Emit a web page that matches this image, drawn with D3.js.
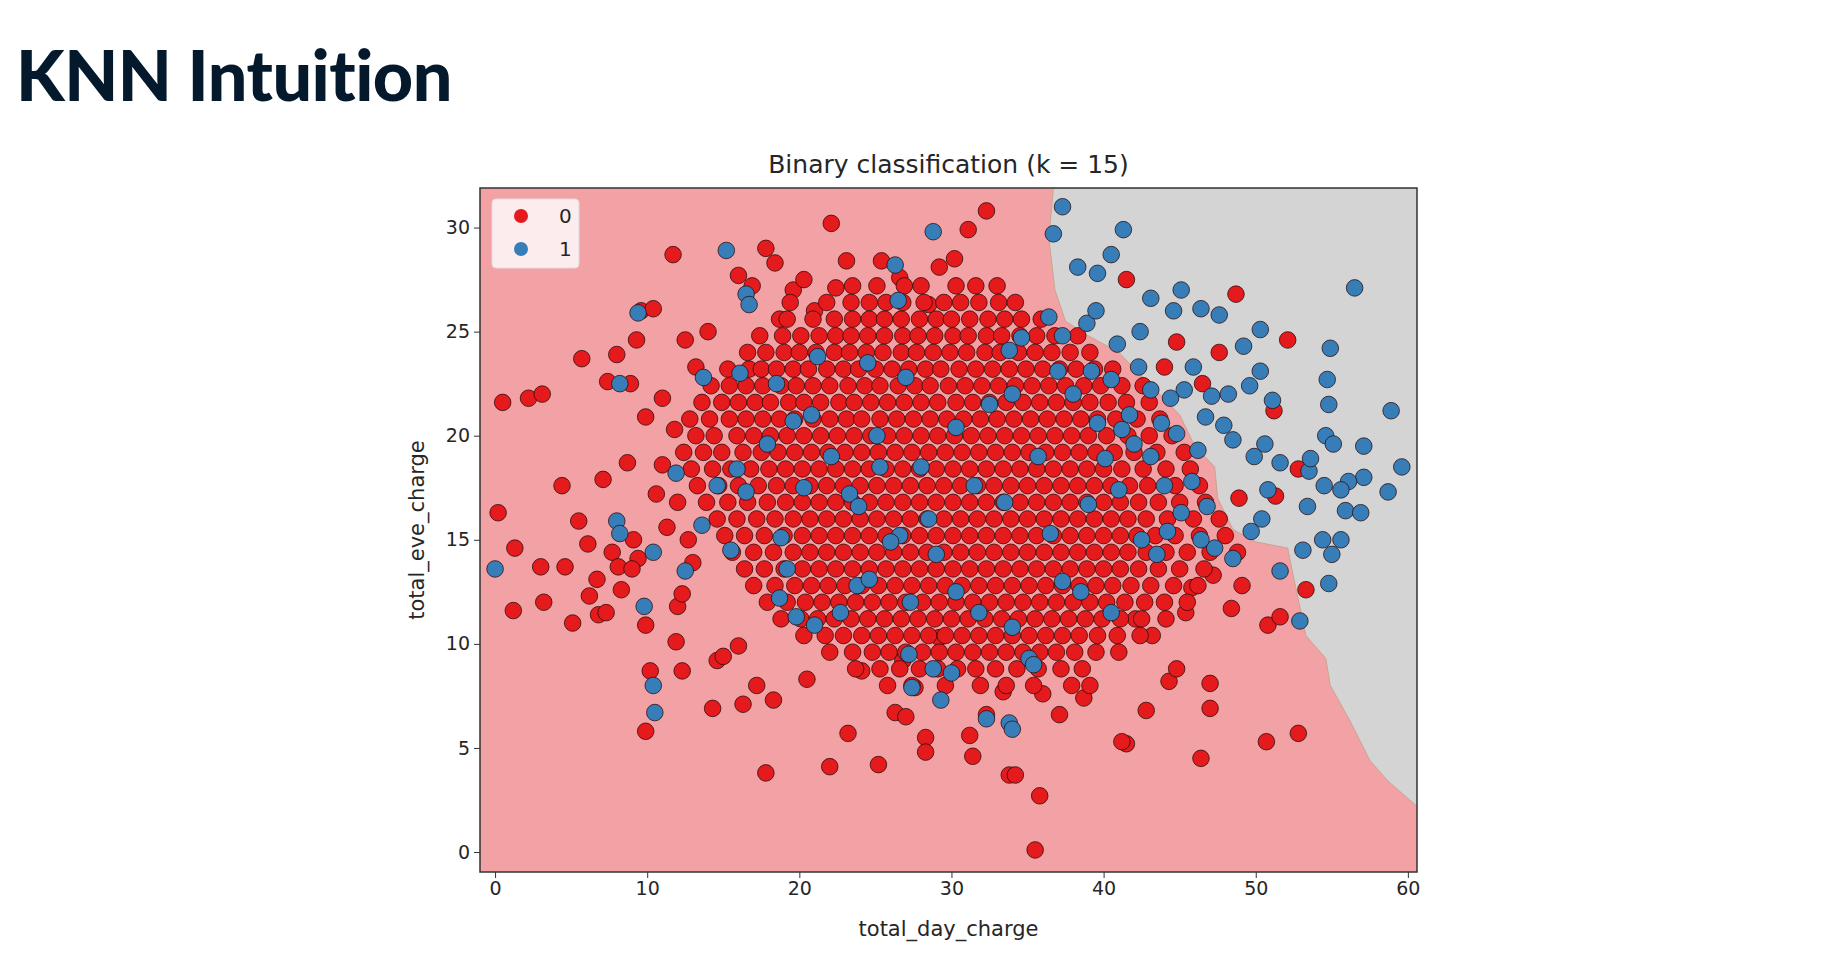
<!DOCTYPE html>
<html>
<head>
<meta charset="utf-8">
<script src="https://cdn.jsdelivr.net/npm/d3@7"></script>
<style>
  body { margin: 0; background: #fff; }
  h1 { position: absolute; left: 16px; top: 32px; margin: 0; font-family: Lato, "Open Sans", sans-serif;
       font-weight: 900; font-size: 70px; color: #05192d; letter-spacing: -0.5px; }
  svg text { font-family: "DejaVu Sans", sans-serif; fill: #262626; }
</style>
</head>
<body>
<h1>KNN Intuition</h1>
<div id="chart"></div>
<script>
// axis ticks
var xTicks = [0, 10, 20, 30, 40, 50, 60];
var yTicks = [0, 5, 10, 15, 20, 25, 30];

// class 1 (grey) decision region outline
var greyRegion = [[36.7,31.9],[36.4,29.5],[36.8,27],[37.5,25.5],[39,24.8],[41,24],[43,22.5],[45,21],[46,19.5],
  [47.3,18.5],[47.5,17],[48.5,15.5],[50,14.9],[52.1,14.6],[52.4,13.5],[53.3,10.4],[54.6,9.3],[54.9,8.0],
  [56.2,6.3],[57.5,4.4],[58.7,3.4],[60.6,2.2],[61.2,2.0],[61.2,31.9]];

// class 0 points, sparse outer ones
var redOuter = [[0.2,16.3],[1.3,14.6],[1.2,11.6],[3.0,13.7],[3.2,12.0],[0.5,21.6],[2.2,21.8],[3.1,22.0],[4.4,17.6],
  [4.6,13.7],[5.1,11.0],[5.5,15.9],[5.7,23.7],[6.1,14.8],[6.2,12.3],[6.7,13.1],[6.8,11.4],[7.1,17.9],[7.3,11.5],
  [7.4,22.6],[7.7,14.4],[8.1,13.7],[8.3,12.6],[8.7,18.7],[8.0,23.9],[8.9,22.5],[9.3,24.6],[9.6,26.0],[9.9,20.9],
  [9.1,15.0],[9.4,14.1],[9.0,13.6],[9.9,10.9],[9.9,5.8],[10.2,8.7],[10.4,26.1],[11.0,21.8],[11.7,28.7],[11.3,15.6],
  [11.0,18.6],[12.0,11.8],[12.3,8.7],[11.9,10.1],[13.0,13.9],[12.3,12.4],[14.3,6.9],[14.6,9.2],[15.0,9.4],[16.3,7.1],
  [16.0,9.9],[17.2,8.0],[18.3,7.3],[17.8,3.8],[20.5,8.3],[22.0,4.1],[23.2,5.7],[24.1,8.7],[25.2,4.2],[26.3,6.7],
  [26.8,9.2],[27.0,6.5],[27.6,7.9],[28.3,5.5],[28.3,4.8],[29.2,10.3],[31.2,5.6],[31.4,4.6],[32.3,6.6],[33.4,7.7],
  [33.8,3.7],[34.2,3.7],[35.8,2.7],[35.5,0.1],[36.0,7.6],[37.1,6.6],[38.7,7.4],[39.1,8.0],[41.5,5.2],[41.2,5.3],
  [42.8,6.8],[46.4,4.5],[47.0,6.9],[47.0,8.1],[44.3,8.2],[50.7,5.3],[52.8,5.7],[44.8,8.8],[48.4,11.7],[50.8,10.9],
  [51.6,11.3],[53.3,12.6],[49.1,12.8],[45.4,11.5],[43.2,10.4],[42.1,11.2],[22.1,30.2],[17.8,29.0],[18.4,28.3],
  [19.6,27.0],[23.1,28.4],[25.4,28.4],[26.6,27.6],[29.2,28.1],[30.2,28.5],[31.1,29.9],[32.3,30.8],[28.5,26.3],
  [16.9,27.2],[16.0,27.7],[19.4,26.4],[18.7,25.6],[21.0,26.0],[20.3,27.5],[22.4,27.1],[41.5,27.5],[48.7,26.8],
  [52.1,24.6],[47.6,24.0],[44.8,24.5],[51.2,21.2],[52.8,18.4],[51.3,17.1],[46.5,22.5],[44.0,23.3],[48.9,17.0],
  [47.2,13.3],[45.8,12.7],[14.0,25.0],[12.5,24.6],[13.2,23.3],[11.8,20.3],[12.0,16.8],[10.6,17.2],[12.7,15.0]];

// class 0 points, dense core: one row per y value
var redRowY = [27.2, 26.4, 25.6, 24.8, 24.0, 23.2, 22.4, 21.6, 20.8, 20.0, 19.2, 18.4, 17.6, 16.8, 16.0, 15.2,
  14.4, 13.6, 12.8, 12.0, 11.2, 10.4, 9.6, 8.8, 8.0];
var redRowX = [
  [23.5,25.1,26.9,28.0,30.3,31.6,33.0],
  [21.8,23.4,24.6,25.7,26.8,28.2,29.5,30.6,31.8,33.1,34.2],
  [19.2,20.9,22.3,23.5,24.6,25.6,26.7,27.9,29.0,30.0,31.2,32.4,33.5,34.6,35.9],
  [17.4,18.9,20.1,21.3,22.4,23.4,24.5,25.6,26.8,27.8,28.9,30.1,31.1,32.3,33.3,34.5,35.6,36.8,38.3],
  [16.6,17.8,19.0,20.0,21.1,22.3,23.3,24.4,25.5,26.7,27.7,28.8,29.9,31.0,32.2,33.2,34.4,35.5,36.6,37.8,39.1],
  [15.3,16.7,17.5,18.5,19.6,20.6,21.8,22.9,23.9,25.0,26.1,27.2,28.3,29.3,30.5,31.6,32.7,33.8,34.9,36.0,37.1,38.2,39.4,40.6],
  [14.2,15.4,16.5,17.6,18.8,19.8,20.9,22.0,23.2,24.3,25.3,26.5,27.6,28.6,29.8,30.9,32.0,33.1,34.2,35.3,36.4,37.5,38.7,39.8,41.2,42.6],
  [13.6,14.9,16.0,17.1,18.1,19.3,20.3,21.4,22.6,23.6,24.7,25.8,26.9,28.0,29.1,30.3,31.4,32.5,33.6,34.7,35.8,36.9,38.0,39.1,40.3,41.5,43.0],
  [12.8,14.1,15.4,16.5,17.6,18.7,19.7,20.9,22.0,23.1,24.1,25.3,26.4,27.5,28.6,29.7,30.8,31.9,33.0,34.1,35.2,36.3,37.4,38.5,39.6,40.8,42.2,43.7],
  [13.2,14.4,15.9,17.0,18.1,19.2,20.3,21.4,22.5,23.6,24.7,25.8,26.9,28.0,29.1,30.2,31.3,32.4,33.5,34.6,35.7,36.8,37.9,39.0,40.2,41.6,43.0,44.5],
  [12.4,13.7,14.9,16.3,17.5,18.6,19.7,20.8,21.9,23.0,24.1,25.2,26.3,27.4,28.5,29.6,30.7,31.8,32.9,34.0,35.1,36.2,37.3,38.4,39.5,40.7,42.0,43.5,45.3],
  [12.9,14.3,15.5,16.8,18.0,19.1,20.2,21.3,22.4,23.5,24.6,25.7,26.8,27.9,29.0,30.1,31.2,32.3,33.4,34.5,35.6,36.7,37.8,38.9,40.0,41.2,42.6,44.1,45.7],
  [13.3,14.7,16.0,17.3,18.5,19.6,20.7,21.8,22.9,24.0,25.1,26.2,27.3,28.4,29.5,30.6,31.7,32.8,33.9,35.0,36.1,37.2,38.3,39.4,40.5,41.7,42.9,44.7,46.3],
  [13.9,15.3,16.6,17.9,19.1,20.2,21.3,22.4,23.5,24.6,25.7,26.8,27.9,29.0,30.1,31.2,32.3,33.4,34.5,35.6,36.7,37.8,38.9,40.0,41.1,42.3,43.6,45.0,46.7],
  [14.6,15.9,17.2,18.4,19.6,20.7,21.8,22.9,24.0,25.1,26.2,27.3,28.4,29.5,30.6,31.7,32.8,33.9,35.0,36.1,37.2,38.3,39.4,40.5,41.6,42.8,44.2,45.9,47.6],
  [15.1,16.4,17.7,19.0,20.2,21.3,22.4,23.5,24.6,25.7,26.8,27.9,29.0,30.1,31.2,32.3,33.4,34.5,35.6,36.7,37.8,38.9,40.0,41.1,42.2,43.4,44.7,46.3,48.0],
  [15.6,17.0,18.3,19.6,20.7,21.8,22.9,24.0,25.1,26.2,27.3,28.4,29.5,30.6,31.7,32.8,33.9,35.0,36.1,37.2,38.3,39.4,40.5,41.6,42.8,44.1,45.5,47.0,48.8],
  [16.4,17.7,19.0,20.2,21.3,22.4,23.5,24.6,25.7,26.8,27.9,29.0,30.1,31.2,32.3,33.4,34.5,35.6,36.7,37.8,38.9,40.0,41.1,42.3,43.6,45.0,46.6],
  [17.0,18.4,19.7,20.8,21.9,23.0,24.1,25.2,26.3,27.4,28.5,29.6,30.7,31.8,32.9,34.0,35.1,36.2,37.3,38.4,39.5,40.6,41.8,43.1,44.6,46.2],
  [17.9,19.2,20.4,21.5,22.6,23.7,24.8,25.9,27.0,28.1,29.2,30.3,31.4,32.5,33.6,34.7,35.8,36.9,38.0,39.1,40.2,41.4,42.7,44.0,45.5],
  [18.8,20.1,21.2,22.3,23.4,24.5,25.6,26.7,27.8,28.9,30.0,31.1,32.2,33.3,34.4,35.5,36.6,37.7,38.8,39.9,41.1,42.5,44.1],
  [20.3,21.7,22.9,24.1,25.2,26.3,27.4,28.5,29.6,30.7,31.8,32.9,34.0,35.1,36.2,37.3,38.4,39.6,40.9,42.4],
  [22.0,23.5,24.8,25.9,27.0,28.1,29.2,30.3,31.4,32.5,33.6,34.7,35.8,36.9,38.1,39.5,41.0],
  [23.7,25.3,26.6,27.9,29.1,30.4,31.6,32.9,34.3,35.7,37.2,38.6],
  [25.8,27.4,29.6,31.9,33.6,35.4,37.9]
];

// class 1 points
var bluePts = [[0,13.6],[15.2,28.9],[16.5,26.8],[16.7,26.3],[9.4,25.9],[8.2,22.5],[11.9,18.2],[8.0,15.9],[8.2,15.3],
  [10.4,14.4],[9.8,11.8],[10.4,8.0],[10.5,6.7],[12.5,13.5],[13.6,15.7],[15.5,14.5],[26.3,28.2],[28.8,29.8],[36.7,29.7],
  [37.3,31.0],[41.3,29.9],[38.3,28.1],[39.6,27.8],[40.5,28.7],[43.1,26.6],[45.1,27.0],[44.6,26.0],[46.4,26.1],[47.6,25.8],
  [49.2,24.3],[50.3,25.1],[54.9,24.2],[56.5,27.1],[54.7,22.7],[54.8,21.5],[54.6,20.0],[55.1,19.6],[57.1,19.5],[58.9,21.2],
  [59.6,18.5],[58.7,17.3],[57.1,18.0],[56.1,17.8],[55.6,17.4],[54.5,17.6],[53.5,18.3],[53.6,18.9],[53.4,16.6],[55.9,16.4],
  [56.9,16.3],[55.6,15.0],[54.4,15.0],[55.0,14.3],[53.1,14.5],[54.8,12.9],[52.9,11.1],[51.6,13.5],[50.4,16.0],[50.8,17.4],
  [49.9,19.0],[50.6,19.6],[51.6,18.7],[51.1,21.7],[50.3,23.1],[49.6,22.4],[48.2,22.0],[47.1,21.9],[48.5,19.8],[47.9,20.5],
  [46.7,20.9],[45.3,22.2],[44.4,21.8],[43.1,22.2],[42.3,23.3],[41.7,21.0],[40.5,22.7],[39.2,23.1],[38.0,22.0],[37.3,24.8],
  [37.0,23.1],[36.4,25.7],[38.9,25.4],[39.5,26.0],[40.9,24.4],[42.4,25.0],[44.8,20.1],[46.2,19.3],[45.8,17.8],[46.8,16.6],
  [45.1,16.3],[44.0,17.6],[43.1,19.0],[42.0,19.6],[41.2,20.3],[40.1,18.9],[39.6,20.6],[47.3,14.6],[48.5,14.1],[49.7,15.4],
  [43.5,14.3],[42.5,15.0],[41.0,17.4],[39.0,16.7],[35.7,19.0],[33.5,16.8],[28.5,16.0],[26.6,15.2],[26.0,14.9],[25.3,18.5],
  [23.3,17.2],[22.1,19.0],[20.8,21.0],[19.6,20.7],[18.5,22.5],[21.2,23.8],[16.1,23.0],[13.7,22.8],[15.9,18.4],[16.5,17.3],
  [17.9,19.6],[14.6,17.6],[18.8,15.1],[19.2,13.6],[18.7,12.2],[19.8,11.3],[21.0,10.9],[22.7,11.5],[23.8,12.8],[24.6,13.1],
  [27.3,12.0],[27.2,9.5],[28.8,8.8],[30.0,8.6],[27.4,7.9],[29.3,7.3],[32.3,6.4],[33.8,6.2],[34.0,5.9],[35.1,9.3],[35.4,9.0],
  [34.0,10.8],[31.8,11.5],[30.3,12.5],[29.0,14.3],[31.5,17.6],[30.3,20.4],[32.5,21.5],[34.0,22.0],[33.8,24.1],[34.6,24.7],
  [27.0,22.8],[25.1,20.0],[23.9,16.6],[26.5,26.5],[37.3,13.0],[38.5,12.5],[40.5,11.5],[36.5,15.3],[28.0,18.5],[24.5,23.5],
  [20.3,17.5],[43.8,20.6],[45.9,23.3],[44.2,15.4],[46.4,15.0]];

var legendLabels = ["0", "1"];
var colors = ["#e41a1c", "#377eb8"];

var pLeft = 480, pRight = 1417, pTop = 188, pBottom = 872;

var svg = d3.select("#chart").append("svg")
    .attr("width", 1840).attr("height", 979)
    .style("position", "absolute").style("left", 0).style("top", 0);

var x = d3.scaleLinear().domain([-0.99, 60.6]).range([pLeft, pRight]);
var y = d3.scaleLinear().domain([-0.96, 31.9]).range([pBottom, pTop]);

svg.append("defs").append("clipPath").attr("id", "plotclip")
  .append("rect").attr("x", pLeft).attr("y", pTop).attr("width", pRight - pLeft).attr("height", pBottom - pTop);

var plot = svg.append("g").attr("clip-path", "url(#plotclip)");

// decision regions
plot.append("rect").attr("x", pLeft).attr("y", pTop).attr("width", pRight - pLeft).attr("height", pBottom - pTop)
  .attr("fill", "#f2a2a4");
plot.append("path")
  .attr("d", d3.line().x(function(d) { return x(d[0]); }).y(function(d) { return y(d[1]); })(greyRegion) + "Z")
  .attr("fill", "#d4d4d4").attr("stroke", "#c9a58f").attr("stroke-width", 1);

// flatten core rows
var redPts = redOuter.slice();
redRowY.forEach(function(yv, i) {
  redRowX[i].forEach(function(xv) { redPts.push([xv, yv]); });
});

function dots(data, color) {
  plot.selectAll(null).data(data).enter().append("circle")
    .attr("cx", function(d) { return x(d[0]); })
    .attr("cy", function(d) { return y(d[1]); })
    .attr("r", 8.3)
    .attr("fill", color)
    .attr("stroke", "rgba(40,10,10,0.75)")
    .attr("stroke-width", 1);
}
dots(redPts, colors[0]);
dots(bluePts, colors[1]);

// frame
svg.append("rect").attr("x", pLeft).attr("y", pTop).attr("width", pRight - pLeft).attr("height", pBottom - pTop)
  .attr("fill", "none").attr("stroke", "#333").attr("stroke-width", 1.5);

// axes
var xAxis = svg.append("g").attr("transform", "translate(0," + pBottom + ")")
  .call(d3.axisBottom(x).tickValues(xTicks).tickSize(6).tickPadding(4));
var yAxis = svg.append("g").attr("transform", "translate(" + pLeft + ",0)")
  .call(d3.axisLeft(y).tickValues(yTicks).tickSize(6).tickPadding(4));
[xAxis, yAxis].forEach(function(a) {
  a.select(".domain").remove();
  a.selectAll("line").attr("stroke", "#333");
  a.selectAll("text").attr("font-size", 19).attr("fill", "#262626").attr("font-family", "DejaVu Sans");
});

svg.append("text").attr("x", (pLeft + pRight) / 2).attr("y", 173).attr("text-anchor", "middle")
  .attr("font-size", 25).text("Binary classification (k = 15)");
svg.append("text").attr("x", (pLeft + pRight) / 2).attr("y", 936).attr("text-anchor", "middle")
  .attr("font-size", 21).text("total_day_charge");
svg.append("text").attr("transform", "translate(424," + ((pTop + pBottom) / 2) + ") rotate(-90)")
  .attr("text-anchor", "middle").attr("font-size", 21).text("total_eve_charge");

// legend
var lg = svg.append("g");
lg.append("rect").attr("x", 492).attr("y", 199).attr("width", 87).attr("height", 69).attr("rx", 4)
  .attr("fill", "rgba(255,255,255,0.8)").attr("stroke", "#ddd");
legendLabels.forEach(function(l, i) {
  lg.append("circle").attr("cx", 521).attr("cy", 216 + i * 33).attr("r", 7).attr("fill", colors[i]);
  lg.append("text").attr("x", 559).attr("y", 223 + i * 33).attr("font-size", 20).text(l);
});
</script>
</body>
</html>
